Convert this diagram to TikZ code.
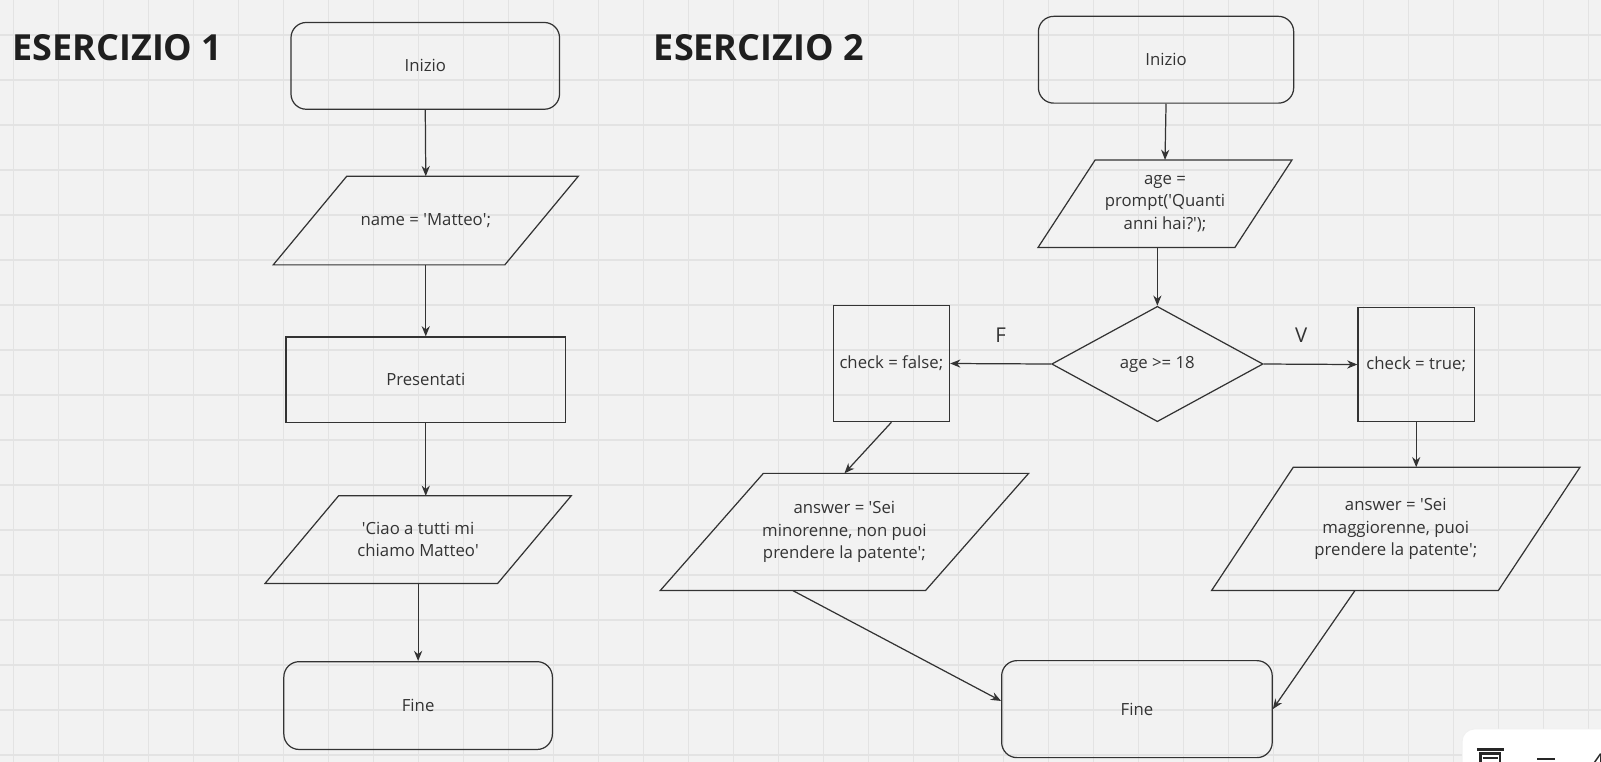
\documentclass[tikz,border=0pt]{standalone}
\usepackage{fontspec}
\setmainfont{Open Sans}
\usepackage{tikz}
\usetikzlibrary{shapes.geometric}
\usetikzlibrary{arrows.meta}

\definecolor{sfondo}{HTML}{F2F2F2}
\definecolor{griglia}{HTML}{E3E3E3}
\definecolor{tratto}{HTML}{333333}
\newcommand{\apice}{\textquotesingle}
\newcommand{\parall}[2]{\draw[tratto, line width=0.6pt] ([xshift=#2]#1.north west) -- (#1.north east) -- ([xshift=-#2]#1.south east) -- (#1.south west) -- cycle;}

\tikzset{
	testo/.style={font=\fontsize{8.2}{11}\selectfont, text=tratto, align=center},
	terminale/.style={testo, draw=tratto, line width=0.6pt, rounded corners=7.5pt, inner sep=1pt},
	processo/.style={testo, draw=tratto, line width=0.6pt, inner sep=1pt},
	inout/.style={testo, inner sep=1pt},
	scelta/.style={testo, draw=tratto, line width=0.6pt, diamond, inner sep=1pt},
	freccia/.style={draw=tratto, line width=0.6pt, -{Stealth[length=5pt,width=4pt]}},
	etichetta/.style={font=\fontsize{10}{12}\selectfont, text=tratto},
	titolo/.style={font=\fontsize{17.6}{21}\selectfont\bfseries, text=black!88, inner sep=0pt},
}

\begin{document}
\begin{tikzpicture}[x=0.5pt, y=-0.5pt]
			\useasboundingbox (0, 0) rectangle (1568, 746);
			\fill[sfondo] (0, 0) rectangle (1568, 746);
			\foreach \i in {0,...,35}
				\draw[griglia, line width=0.6pt] ({13.5+44.07*\i}, 0) -- ({13.5+44.07*\i}, 746);
			\foreach \j in {0,...,16}
				\draw[griglia, line width=0.6pt] (0, {34.3+44.07*\j}) -- (1568, {34.3+44.07*\j});

			\node[titolo, anchor=west] (tit1) at (12, 47) {ESERCIZIO 1};
			\node[titolo, anchor=west] (tit2) at (640, 47) {ESERCIZIO 2};

			\node[terminale, minimum width=131.5pt, minimum height=42.5pt] (inizio1) at (416.5, 64.5) {Inizio};
			\node[inout, minimum width=149pt, minimum height=43pt] (nome) at (417, 216) {name = \apice Matteo\apice;};
			\parall{nome}{36pt}
			\node[processo, minimum width=137pt, minimum height=42pt] (pres) at (417, 372) {Presentati};
			\node[inout, minimum width=149.5pt, minimum height=42.5pt] (ciao) at (409.5, 528.5) {\apice Ciao a tutti mi\\chiamo Matteo\apice};
			\parall{ciao}{36pt}
			\node[terminale, minimum width=131.5pt, minimum height=43pt] (fine1) at (409.5, 691) {Fine};

			\draw[freccia] (inizio1.south) -- (nome.north);
			\draw[freccia] (nome.south) -- (pres.north);
			\draw[freccia] (pres.south) -- (pres.south |- ciao.north);
			\draw[freccia] (ciao.south) -- (fine1.north);

			\node[terminale, minimum width=125pt, minimum height=42.5pt] (inizio2) at (1142, 58.5) {Inizio};
			\node[inout, minimum width=124pt, minimum height=42.5pt] (age) at (1141, 199.5) {age =\\prompt(\apice Quanti\\anni hai?\apice);};
			\parall{age}{28pt}
			\node[scelta, aspect=1.83, minimum width=103.5pt, minimum height=56.5pt] (dec) at (1133.5, 356.5) {age >= 18};
			\node[processo, minimum width=57pt, minimum height=57pt] (chkF) at (873, 356) {check = false;};
			\node[processo, minimum width=57pt, minimum height=56pt] (chkT) at (1387, 357) {check = true;};
			\node[inout, minimum width=180pt, minimum height=57pt] (minor) at (827, 521) {answer = \apice Sei\\minorenne, non puoi\\prendere la patente\apice;};
			\parall{minor}{50.5pt}
			\node[inout, minimum width=180pt, minimum height=60pt] (magg) at (1367, 518) {answer = \apice Sei\\maggiorenne, puoi\\prendere la patente\apice;};
			\parall{magg}{40pt}
			\node[terminale, minimum width=132.5pt, minimum height=47.5pt] (fine2) at (1113.5, 694.5) {Fine};

			\draw[freccia] (inizio2.south) -- (age.north);
			\draw[freccia] (age.south -| dec.north) -- (dec.north);
			\draw[freccia] (dec.west) -- node[etichetta, above=7pt] (lblF) {F} (chkF.east);
			\draw[freccia] (dec.east) -- node[etichetta, above=7pt, pos=0.4] (lblV) {V} (chkT.west);
			\draw[freccia] (chkF.south) -- (minor.north);
			\draw[freccia] (chkT.south) -- (chkT.south |- magg.north);
			\draw[freccia] ([xshift=-25.25pt]minor.south) -- ([yshift=4pt]fine2.west);
			\draw[freccia] ([xshift=-20pt]magg.south) -- (fine2.east);

			\fill[white, draw=black!6, rounded corners=6pt] (1432, 714) rectangle (1620, 790);
			\draw[black!85, line width=1.1pt] (1446.5, 734) -- (1473, 734);
			\draw[black!85, line width=1.1pt] (1450, 746) -- (1450, 738) -- (1469, 738) -- (1469, 746);
			\draw[black!85, line width=1.1pt] (1452, 742.5) -- (1467, 742.5);
			\draw[black!85, line width=1.2pt] (1505.5, 743.4) -- (1523, 743.4);
			\node[font=\fontsize{12}{12}\selectfont, text=black!85, inner sep=0pt, anchor=north west] (zoomval) at (1558, 737.5) {4};
		\end{tikzpicture}
\end{document}
